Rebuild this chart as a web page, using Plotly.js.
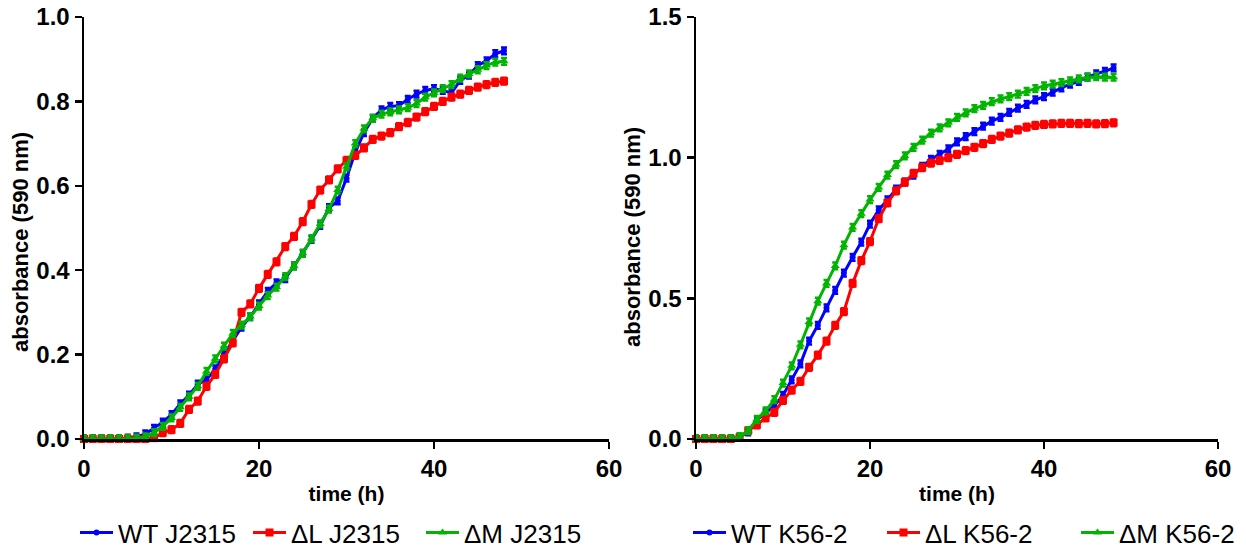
<!DOCTYPE html>
<html>
<head>
<meta charset="utf-8">
<script src="https://cdn.plot.ly/plotly-3.0.1.min.js"></script>
<style>html,body{margin:0;padding:0;background:#fff;}#chart{width:1246px;height:550px;}</style>
</head>
<body>
<div id="chart"></div>
<script>
// time points (h)
const hours = [0,1,2,3,4,5,6,7,8,9,10,11,12,13,14,15,16,17,18,19,20,21,22,23,24,25,26,27,28,29,30,31,32,33,34,35,36,37,38,39,40,41,42,43,44,45,46,47,48];

// J2315 (left panel)
const wtJ2315 = [0,0,0,0,0,0.002,0.005,0.012,0.025,0.04,0.058,0.083,0.104,0.13,0.14,0.166,0.2,0.232,0.265,0.29,0.32,0.35,0.37,0.38,0.41,0.44,0.473,0.506,0.548,0.564,0.618,0.68,0.726,0.76,0.78,0.788,0.79,0.805,0.817,0.826,0.83,0.826,0.82,0.85,0.862,0.885,0.896,0.913,0.92];
const dlJ2315 = [0,0,0,0,0,0,0,0,0.002,0.015,0.022,0.037,0.07,0.09,0.125,0.153,0.19,0.228,0.30,0.32,0.357,0.39,0.42,0.456,0.48,0.515,0.556,0.59,0.614,0.64,0.66,0.672,0.69,0.71,0.718,0.726,0.74,0.75,0.763,0.776,0.788,0.80,0.81,0.817,0.826,0.834,0.84,0.845,0.848];
const dmJ2315 = [0,0,0,0,0,0,0.002,0.005,0.015,0.03,0.05,0.075,0.10,0.125,0.16,0.19,0.22,0.25,0.27,0.29,0.315,0.34,0.36,0.385,0.41,0.44,0.475,0.51,0.545,0.59,0.645,0.70,0.735,0.76,0.77,0.775,0.78,0.785,0.795,0.81,0.82,0.83,0.84,0.855,0.865,0.875,0.885,0.893,0.895];

// K56-2 (right panel)
const wtK562 = [0,0,0,0,0,0.006,0.025,0.068,0.093,0.118,0.155,0.21,0.267,0.348,0.404,0.466,0.528,0.59,0.646,0.70,0.764,0.814,0.85,0.888,0.913,0.938,0.969,0.994,1.012,1.031,1.056,1.075,1.093,1.112,1.13,1.143,1.161,1.176,1.189,1.205,1.217,1.233,1.248,1.261,1.271,1.286,1.298,1.307,1.319];
const dlK562 = [0,0,0,0,0,0.005,0.03,0.05,0.075,0.095,0.137,0.174,0.205,0.255,0.298,0.348,0.404,0.453,0.553,0.634,0.702,0.783,0.839,0.882,0.913,0.944,0.965,0.981,0.99,1.0,1.012,1.025,1.037,1.05,1.065,1.077,1.087,1.099,1.109,1.115,1.118,1.12,1.122,1.122,1.121,1.122,1.12,1.121,1.124];
const dmK562 = [0,0,0,0,0,0.008,0.03,0.07,0.10,0.14,0.199,0.26,0.335,0.416,0.49,0.553,0.615,0.689,0.752,0.801,0.851,0.894,0.938,0.975,1.006,1.037,1.062,1.087,1.106,1.124,1.143,1.159,1.174,1.186,1.199,1.209,1.217,1.226,1.236,1.245,1.255,1.261,1.267,1.273,1.28,1.286,1.288,1.286,1.286];

const namesLeft = ['WT J2315', 'ΔL J2315', 'ΔM J2315'];
const namesRight = ['WT K56-2', 'ΔL K56-2', 'ΔM K56-2'];
const xTickVals = [0, 20, 40, 60];
const xTitle = 'time (h)';
const yTitle = 'absorbance (590 nm)';

const colors = ['#0000ff', '#ff0000', '#00b400'];
const symbols = ['circle', 'square', 'triangle-up'];
const msizes = [6, 8, 8];

const FONT = 'Arial, "Liberation Sans", sans-serif';

function mk(x, y, i, name, xa, ya, leg, ebv) {
  return {
    x: x, y: y, name: name, type: 'scatter', mode: 'lines+markers',
    xaxis: xa, yaxis: ya, legend: leg, cliponaxis: false,
    line: {color: colors[i], width: 3},
    marker: {color: colors[i], symbol: symbols[i], size: msizes[i]},
    error_y: {type: 'constant', value: ebv, color: colors[i], thickness: 2.5, width: 3}
  };
}

const traces = [
  mk(hours, wtJ2315, 0, namesLeft[0], 'x', 'y', 'legend', 0.008),
  mk(hours, dlJ2315, 1, namesLeft[1], 'x', 'y', 'legend', 0.008),
  mk(hours, dmJ2315, 2, namesLeft[2], 'x', 'y', 'legend', 0.008),
  mk(hours, wtK562, 0, namesRight[0], 'x2', 'y2', 'legend2', 0.012),
  mk(hours, dlK562, 1, namesRight[1], 'x2', 'y2', 'legend2', 0.012),
  mk(hours, dmK562, 2, namesRight[2], 'x2', 'y2', 'legend2', 0.012)
];

const W = 1246;
const H0 = 439, H1 = 17;
function xaxisDef(d0, d1, anchor) {
  return {
    anchor: anchor, domain: [d0 / W, d1 / W], range: [0, 60], tickvals: xTickVals,
    showgrid: false, zeroline: false, showline: true, linecolor: '#000', linewidth: 2.5,
    ticks: 'outside', ticklen: 7, tickwidth: 2.5, tickcolor: '#000',
    tickfont: {family: FONT, size: 24, color: '#000', weight: 'bold'},
    title: {text: '<b>' + xTitle + '</b>', font: {family: FONT, size: 21, color: '#000'}, standoff: 5},
    automargin: false, fixedrange: true
  };
}
function yaxisDef(anchor, max, dt) {
  return {
    anchor: anchor, domain: [0, 1], range: [0, max], dtick: dt, tick0: 0, tickformat: '.1f',
    showgrid: false, zeroline: false, showline: true, linecolor: '#000', linewidth: 2.5,
    ticks: 'outside', ticklen: 7, tickwidth: 2.5, tickcolor: '#000',
    tickfont: {family: FONT, size: 24, color: '#000', weight: 'bold'},
    automargin: false, fixedrange: true
  };
}
function ytitle(xpx, ypx) {
  return {
    xref: 'paper', yref: 'paper', x: xpx / W, y: (H0 - ypx) / (H0 - H1),
    xanchor: 'center', yanchor: 'middle', textangle: -90, showarrow: false,
    text: '<b>' + yTitle + '</b>', font: {family: FONT, size: 22, color: '#000'}
  };
}

const layout = {
  width: 1246, height: 550,
  margin: {l: 0, r: 0, t: H1, b: 550 - H0, autoexpand: false},
  paper_bgcolor: '#fff', plot_bgcolor: '#fff',
  font: {family: FONT, color: '#000'},
  xaxis: xaxisDef(84, 609, 'y'),
  yaxis: yaxisDef('x', 1.0, 0.2),
  xaxis2: xaxisDef(696, 1218, 'y2'),
  yaxis2: yaxisDef('x2', 1.5, 0.5),
  annotations: [ytitle(20, 242), ytitle(632, 237)],
  legend: {orientation: 'h', x: 75 / W, xanchor: 'left', y: -0.222, yanchor: 'middle',
           entrywidth: 125, entrywidthmode: 'pixels',
           font: {family: FONT, size: 26, color: '#000'}, bgcolor: 'rgba(0,0,0,0)', itemwidth: 33},
  legend2: {orientation: 'h', x: 688 / W, xanchor: 'left', y: -0.222, yanchor: 'middle',
           entrywidth: 146, entrywidthmode: 'pixels',
           font: {family: FONT, size: 26, color: '#000'}, bgcolor: 'rgba(0,0,0,0)', itemwidth: 33},
  showlegend: true
};

Plotly.newPlot('chart', traces, layout, {staticPlot: true, displayModeBar: false});
</script>
</body>
</html>
